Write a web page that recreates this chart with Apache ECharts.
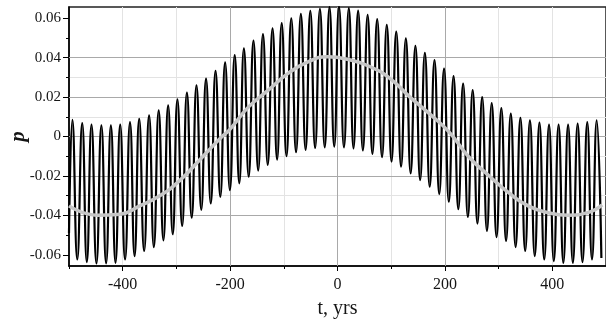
<!DOCTYPE html>
<html>
<head>
<meta charset="utf-8">
<script src="https://cdn.jsdelivr.net/npm/echarts@6/dist/echarts.min.js"></script>
<style>
html,body{margin:0;padding:0;background:#ffffff;}
#chart{width:606px;height:325px;}
</style>
</head>
<body>
<div id="chart"></div>
<script>
// Peaks of the black oscillating curve (t in years, p)
const peakT = [-493.7,-475.4,-458.1,-439.7,-422.0,-404.7,-386.4,-369.3,-350.9,-333.0,-315.4,-298.1,-280.4,-262.6,-244.8,-227.1,-209.3,-191.4,-174.3,-156.5,-138.8,-121.0,-103.9,-86.1,-68.2,-50.6,-32.7,-14.9,2.8,21.1,38.4,56.1,73.9,91.8,109.4,127.3,145.1,162.7,180.6,198.4,216.1,233.9,251.7,269.4,287.2,305.1,322.7,340.6,358.4,376.1,393.9,411.7,429.4,447.2,465.1,482.7];
const peakV = [0.0085,0.0068,0.0060,0.0056,0.0056,0.0061,0.0073,0.0090,0.0107,0.0133,0.0158,0.0189,0.0223,0.0260,0.0294,0.0333,0.0376,0.0413,0.0447,0.0486,0.0519,0.0549,0.0575,0.0600,0.0622,0.0637,0.0648,0.0656,0.0659,0.0651,0.0639,0.0617,0.0595,0.0566,0.0532,0.0498,0.0460,0.0425,0.0388,0.0345,0.0306,0.0269,0.0235,0.0200,0.0170,0.0144,0.0116,0.0095,0.0082,0.0070,0.0061,0.0060,0.0060,0.0065,0.0073,0.0082];
// Troughs of the black curve (first entry is the left end of the curve)
const troughT = [-500,-484.6,-466.8,-448.9,-430.9,-413.4,-395.6,-377.9,-360.1,-342.0,-324.2,-306.8,-289.3,-271.5,-253.7,-236.0,-218.2,-200.4,-182.9,-165.4,-147.7,-129.9,-112.5,-95.0,-77.2,-59.4,-41.7,-23.8,-6.1,12.0,29.8,47.3,65.0,82.9,100.6,118.4,136.2,153.9,171.7,189.5,207.3,225.0,242.8,260.6,278.3,296.2,313.9,331.7,349.5,367.3,385.0,402.8,420.6,438.3,456.2,473.9,491.4];
const troughV = [-0.0490,-0.0624,-0.0637,-0.0644,-0.0644,-0.0641,-0.0624,-0.0607,-0.0581,-0.0561,-0.0527,-0.0496,-0.0454,-0.0412,-0.0372,-0.0340,-0.0306,-0.0272,-0.0238,-0.0204,-0.0173,-0.0144,-0.0117,-0.0100,-0.0080,-0.0068,-0.0058,-0.0055,-0.0051,-0.0055,-0.0060,-0.0071,-0.0088,-0.0105,-0.0127,-0.0153,-0.0187,-0.0221,-0.0255,-0.0292,-0.0331,-0.0369,-0.0408,-0.0442,-0.0479,-0.0510,-0.0530,-0.0561,-0.0581,-0.0607,-0.0624,-0.0632,-0.0641,-0.0641,-0.0637,-0.0624,-0.0616];
// Grey smooth curve
const grayT = [-500,-448,-405,-368,-331,-294,-252,-215,-202,-166,-129,-92,-55,-19,24,61,98,135,171,208,245,282,318,355,392,429,466,493];
const grayV = [-0.0352,-0.0399,-0.0394,-0.0352,-0.0301,-0.0224,-0.0105,0.0000,0.0031,0.0149,0.0235,0.0320,0.0379,0.0404,0.0388,0.0354,0.0294,0.0200,0.0116,0.0022,-0.0105,-0.0199,-0.0284,-0.0352,-0.0386,-0.0399,-0.0386,-0.0347];
// Tick positions
const xMajorTicks = [-400,-200,0,200,400];
const yMajorTicks = [-0.06,-0.04,-0.02,0,0.02,0.04,0.06];
const yMinorTicks = [-0.05,-0.03,-0.01,0.01,0.03,0.05];

const blackData = [];
for (let i = 0; i < peakT.length; i++) {
  blackData.push([troughT[i], troughV[i]]);
  blackData.push([peakT[i], peakV[i]]);
}
blackData.push([troughT[troughT.length - 1], troughV[troughV.length - 1]]);
const grayData = grayT.map((t, i) => [t, grayV[i]]);

const serif = '"Liberation Serif", "Times New Roman", serif';
const labelColor = '#151515';
const lightGrid = '#e3e3e3';
const darkGrid = '#a9a9a9';
const YMIN = -0.0657, YMAX = 0.0657;

const chart = echarts.init(document.getElementById('chart'), null, {renderer: 'canvas'});
chart.setOption({
  animation: false,
  backgroundColor: '#ffffff',
  grid: {left: 64, right: -2, top: 7, bottom: 59, show: true, borderColor: '#222', borderWidth: 1.5, backgroundColor: 'transparent', containLabel: false},
  xAxis: [
    {
      type: 'value', min: -500, max: 500, interval: 100, position: 'bottom', z: 0,
      axisLine: {show: true, onZero: false, lineStyle: {color: '#000', width: 1.5}},
      axisTick: {show: true, length: 3, lineStyle: {color: '#000'}},
      axisLabel: {show: false},
      splitLine: {show: true, showMinLine: false, showMaxLine: false, lineStyle: {color: lightGrid, width: 1}},
      name: 't, yrs', nameLocation: 'middle', nameGap: 33,
      nameTextStyle: {fontFamily: serif, fontSize: 20, color: labelColor}
    },
    {
      type: 'value', min: -500, max: 500, splitNumber: 5, position: 'bottom', z: 1,
      axisLine: {show: false, onZero: false},
      axisTick: {show: true, length: 5, customValues: xMajorTicks, lineStyle: {color: '#000'}},
      axisLabel: {show: true, customValues: xMajorTicks, margin: 11, fontFamily: serif, fontSize: 16, color: labelColor,
        formatter: v => (Math.abs(v) < 500 && v % 200 === 0) ? String(v) : ''},
      splitLine: {show: true, showMinLine: false, showMaxLine: false, lineStyle: {color: darkGrid, width: 1}}
    }
  ],
  yAxis: [
    {
      type: 'value', min: YMIN, max: YMAX, splitNumber: 13, position: 'left', z: 0,
      axisLine: {show: true, onZero: false, lineStyle: {color: '#000', width: 1.5}},
      axisTick: {show: true, length: 3, customValues: yMinorTicks, lineStyle: {color: '#000'}},
      axisLabel: {show: false},
      splitLine: {show: true, showMinLine: false, showMaxLine: false, lineStyle: {color: lightGrid, width: 1}},
      name: 'p', nameLocation: 'middle', nameGap: 40, nameRotate: 90,
      nameTextStyle: {fontFamily: serif, fontSize: 21, fontStyle: 'italic', fontWeight: 'bold', color: labelColor}
    },
    {
      type: 'value', min: YMIN, max: YMAX, splitNumber: 6, position: 'left', z: 1,
      axisLine: {show: false, onZero: false},
      axisTick: {show: true, length: 6, customValues: yMajorTicks, lineStyle: {color: '#000'}},
      axisLabel: {show: true, customValues: yMajorTicks, margin: 8, fontFamily: serif, fontSize: 15, color: labelColor,
        formatter: v => Math.abs(v) < 1e-9 ? '0' : v.toFixed(2)},
      splitLine: {show: true, showMinLine: false, showMaxLine: false, lineStyle: {color: darkGrid, width: 1}}
    }
  ],
  series: [
    {
      type: 'line', xAxisIndex: 0, yAxisIndex: 0, data: blackData,
      symbol: 'none', smooth: 0.5, clip: true,
      lineStyle: {color: '#000000', width: 2.2}, z: 2
    },
    {
      type: 'line', xAxisIndex: 0, yAxisIndex: 0, data: grayData,
      symbol: 'none', smooth: true, clip: true,
      lineStyle: {color: '#c6c6c6', width: 3.5}, z: 3
    }
  ]
});
</script>
</body>
</html>
